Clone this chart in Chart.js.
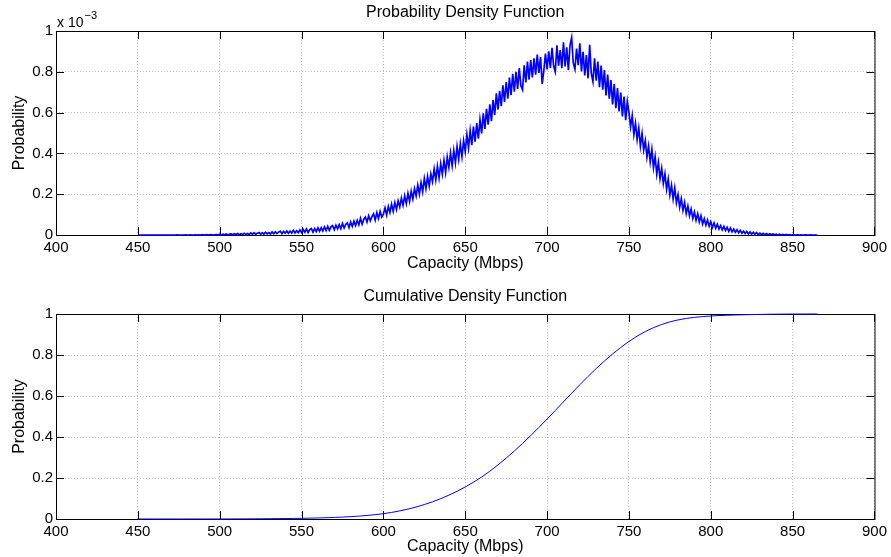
<!DOCTYPE html>
<html>
<head>
<meta charset="utf-8">
<script src="https://cdn.jsdelivr.net/npm/chart.js@4/dist/chart.umd.min.js"></script>
<style>
  html, body { margin: 0; padding: 0; background: #fff; }
  #haut { position: absolute; left: 0; top: 0; }
  #bas  { position: absolute; left: 0; top: 280px; }
</style>
</head>
<body>
<canvas id="haut" width="891" height="280"></canvas>
<canvas id="bas" width="891" height="277"></canvas>
<script>
// ── DONNÉES ───────────────────────────────────────
// Densité : un point par Mbps à partir de 450, valeurs en unités de 10^-3
const PDF_DEBUT = 450;
const PDF_PAS   = 1;
const densiteE3 = [
  0,0,0,0,0,0,0,0,0,0,0,0,0,0,0,0,0,0,0,0,
  0,0,0,0,0.001,0,0,0,0,0.001,0,0,0.001,0,0,0.001,0,0.001,0,0.001,
  0.001,0,0.002,0.001,0.001,0.002,0,0.001,0.002,0.001,
  0.004,0.000,0.004,0.001,0.005,0.000,0.004,0.005,0.001,0.006,
  0.002,0.007,0.001,0.006,0.003,0.008,0.002,0.007,0.003,0.010,
  0.004,0.011,0.003,0.009,0.012,0.004,0.011,0.005,0.014,0.006,
  0.012,0.005,0.015,0.006,0.016,0.007,0.014,0.019,0.006,0.018,
  0.009,0.020,0.008,0.019,0.010,0.023,0.010,0.021,0.011,0.025,
  0.012,0.027,0.014,0.030,0.012,0.026,0.032,0.014,0.031,0.017,
  0.035,0.018,0.036,0.020,0.040,0.022,0.043,0.023,0.040,0.046,
  0.026,0.048,0.030,0.051,0.031,0.057,0.034,0.052,0.060,0.036,
  0.064,0.042,0.068,0.046,0.072,0.050,0.082,0.053,0.076,0.088,
  0.064,0.094,0.070,0.090,0.104,0.073,0.110,0.081,0.116,0.088,
  0.102,0.133,0.098,0.140,0.110,0.151,0.116,0.159,0.125,0.168,
  0.138,0.181,0.146,0.192,0.154,0.204,0.164,0.215,0.176,0.227,
  0.192,0.245,0.200,0.257,0.212,0.277,0.228,0.287,0.240,0.299,
  0.262,0.324,0.270,0.337,0.280,0.350,0.298,0.366,0.306,0.382,
  0.332,0.402,0.340,0.415,0.354,0.434,0.372,0.446,0.384,0.462,
  0.410,0.492,0.428,0.512,0.440,0.532,0.458,0.548,0.472,0.566,
  0.498,0.596,0.520,0.619,0.541,0.640,0.558,0.662,0.588,0.694,
  0.615,0.707,0.631,0.734,0.652,0.750,0.668,0.772,0.686,0.790,
  0.702,0.800,0.716,0.818,0.731,0.712,0.832,0.748,0.850,0.762,
  0.858,0.772,0.866,0.786,0.884,0.795,0.872,0.741,0.806,0.889,
  0.812,0.900,0.818,0.918,0.828,0.800,0.930,0.830,0.906,0.818,
  0.944,0.826,0.920,0.808,0.931,0.968,0.842,0.812,0.914,0.832,
  0.940,0.802,0.898,0.782,0.882,0.768,0.932,0.792,0.752,0.866,
  0.756,0.850,0.724,0.830,0.712,0.808,0.684,0.786,0.668,0.760,
  0.640,0.740,0.622,0.720,0.606,0.698,0.581,0.679,0.563,0.654,
  0.600,0.530,0.585,0.492,0.548,0.468,0.524,0.436,0.497,0.417,
  0.462,0.382,0.436,0.358,0.420,0.330,0.384,0.298,0.356,0.276,
  0.326,0.252,0.300,0.224,0.274,0.196,0.244,0.176,0.230,0.158,
  0.198,0.136,0.178,0.121,0.160,0.105,0.142,0.094,0.127,0.081,
  0.112,0.072,0.104,0.064,0.094,0.054,0.080,0.048,0.073,0.043,
  0.065,0.037,0.059,0.033,0.053,0.029,0.046,0.025,0.042,0.022,
  0.038,0.018,0.034,0.015,0.029,0.013,0.026,0.011,0.023,0.009,
  0.019,0.007,0.017,0.005,0.015,0.004,0.013,0.003,0.012,0.002,
  0.009,0.002,0.008,0.001,0.007,0.001,0.006,0.001,0.005,0.001,
  0.004,0,0.004,0,0.003,0,0.003,0,0.002,0,
  0.001,0.001,0,0.001,0,0.001,0,0,0.001,0,
  0,0.001,0,0,0,0
];

// Fonction de répartition : un point tous les 5 Mbps à partir de 450
const CDF_DEBUT = 450;
const CDF_PAS   = 5;
const repartition = [
  0, 0, 0, 0, 0, 0, 0.0001, 0.0001, 0.0001, 0.0001,
  0.0002, 0.0003, 0.0004, 0.0006, 0.0008, 0.0011, 0.0014, 0.0018, 0.0023, 0.0028,
  0.0034, 0.0042, 0.0051, 0.0062, 0.0076, 0.0093, 0.0114, 0.0140, 0.0172, 0.0212,
  0.0260, 0.0321, 0.0395, 0.0482, 0.0585, 0.0704, 0.0839, 0.0993, 0.1164, 0.1354,
  0.1562, 0.1793, 0.2048, 0.2331, 0.2639, 0.2969, 0.3318, 0.3685, 0.4070, 0.4469,
  0.4878, 0.5294, 0.5715, 0.6136, 0.6550, 0.6953, 0.7340, 0.7707, 0.8051, 0.8370,
  0.8661, 0.8921, 0.9145, 0.9334, 0.9491, 0.9616, 0.9711, 0.9783, 0.9835, 0.9874,
  0.9902, 0.9924, 0.9940, 0.9953, 0.9963, 0.9972, 0.9980, 0.9987, 0.9992, 0.9996,
  0.9998, 0.9999, 1, 1
];

const ticksX = [400, 450, 500, 550, 600, 650, 700, 750, 800, 850, 900];
const ticksY = [0, 0.2, 0.4, 0.6, 0.8, 1];

// ── STYLE ─────────────────────────────────────────
const POLICE = '"Liberation Sans", Arial, Helvetica, sans-serif';
const BLEU   = '#0000ff';
const GRILLE = '#bdbdbd';
Chart.defaults.font.family = POLICE;
Chart.defaults.font.size   = 15;
Chart.defaults.color       = '#000';

// Cadre noir + graduations vers l'intérieur (façon MATLAB)
const cadreMatlab = {
  id: 'cadreMatlab',
  beforeDatasetsDraw(chart) {
    const { ctx, chartArea: a, scales: { x, y } } = chart;
    ctx.save();
    ctx.strokeStyle = '#000';
    ctx.lineWidth = 1;
    ctx.strokeRect(a.left + 0.5, a.top + 0.5, a.right - a.left, a.bottom - a.top);
    ctx.beginPath();
    ticksX.forEach(function(v) {
      const px = Math.round(x.getPixelForValue(v)) + 0.5;
      ctx.moveTo(px, a.bottom); ctx.lineTo(px, a.bottom - 8);
      ctx.moveTo(px, a.top);    ctx.lineTo(px, a.top + 8);
    });
    ticksY.forEach(function(v) {
      const py = Math.round(y.getPixelForValue(v)) + 0.5;
      ctx.moveTo(a.left, py);  ctx.lineTo(a.left + 8, py);
      ctx.moveTo(a.right, py); ctx.lineTo(a.right - 8, py);
    });
    ctx.stroke();
    ctx.restore();
  }
};

// Multiplicateur "x 10^-3" au-dessus de l'axe Y
const exposant = {
  id: 'exposant',
  afterDraw(chart) {
    if (!chart.options.plugins.exposant) return;
    const { ctx, chartArea: a } = chart;
    ctx.save();
    ctx.fillStyle = '#000';
    ctx.textBaseline = 'alphabetic';
    ctx.font = '14px ' + POLICE;
    ctx.fillText('x 10', a.left + 1, 27);
    const w = ctx.measureText('x 10').width;
    ctx.font = '11px ' + POLICE;
    ctx.fillText('\u22123', a.left + 2 + w, 19);
    ctx.restore();
  }
};

function options(titre, haut) {
  return {
    responsive: false,
    animation: false,
    events: [],
    layout: { padding: { left: 0, right: 15, top: 0, bottom: 0 } },
    plugins: {
      legend: { display: false },
      tooltip: { enabled: false },
      exposant: haut,
      title: {
        display: true,
        text: titre,
        fullSize: false,
        color: '#000',
        font: { size: 16, weight: 'normal', lineHeight: 1.125 },
        padding: haut ? { top: 4, bottom: 9 } : { top: 8, bottom: 8 }
      }
    },
    scales: {
      x: {
        type: 'linear',
        min: 400, max: 900,
        afterBuildTicks: function(s) { s.ticks = ticksX.map(function(v) { return { value: v }; }); },
        afterFit: function(s) { s.height = haut ? 45 : 38; },
        ticks: { padding: 4, maxRotation: 0, autoSkip: false, color: '#000' },
        grid: { color: GRILLE, lineWidth: 1, drawTicks: false },
        border: { display: false, dash: [1, 2] },
        title: {
          display: true, text: 'Capacity (Mbps)', color: '#000',
          font: { size: 16 },
          padding: { top: 0, bottom: haut ? 7 : 1 }
        }
      },
      y: {
        min: 0, max: 1,
        afterBuildTicks: function(s) { s.ticks = ticksY.map(function(v) { return { value: v }; }); },
        afterFit: function(s) { s.width = 56; },
        ticks: { padding: 3, color: '#000', callback: function(v) { return String(v); } },
        grid: { color: GRILLE, lineWidth: 1, drawTicks: false },
        border: { display: false, dash: [1, 2] },
        title: {
          display: true, text: 'Probability', color: '#000',
          font: { size: 16 },
          padding: { top: 10, bottom: 0 }
        }
      }
    }
  };
}

function serie(debut, pas, valeurs) {
  return valeurs.map(function(v, i) { return { x: debut + i * pas, y: v }; });
}

// ── GRAPHIQUE HAUT — densité ──────────────────────
new Chart(document.getElementById('haut'), {
  type: 'line',
  data: {
    datasets: [{
      data: serie(PDF_DEBUT, PDF_PAS, densiteE3),
      borderColor: BLEU,
      borderWidth: 1.7,
      pointRadius: 0,
      tension: 0,
      clip: false
    }]
  },
  options: options('Probability Density Function', true),
  plugins: [cadreMatlab, exposant]
});

// ── GRAPHIQUE BAS — répartition ───────────────────
new Chart(document.getElementById('bas'), {
  type: 'line',
  data: {
    datasets: [{
      data: serie(CDF_DEBUT, CDF_PAS, repartition),
      borderColor: BLEU,
      borderWidth: 1,
      pointRadius: 0,
      cubicInterpolationMode: 'monotone',
      clip: false
    }]
  },
  options: options('Cumulative Density Function', false),
  plugins: [cadreMatlab, exposant]
});
</script>
</body>
</html>
